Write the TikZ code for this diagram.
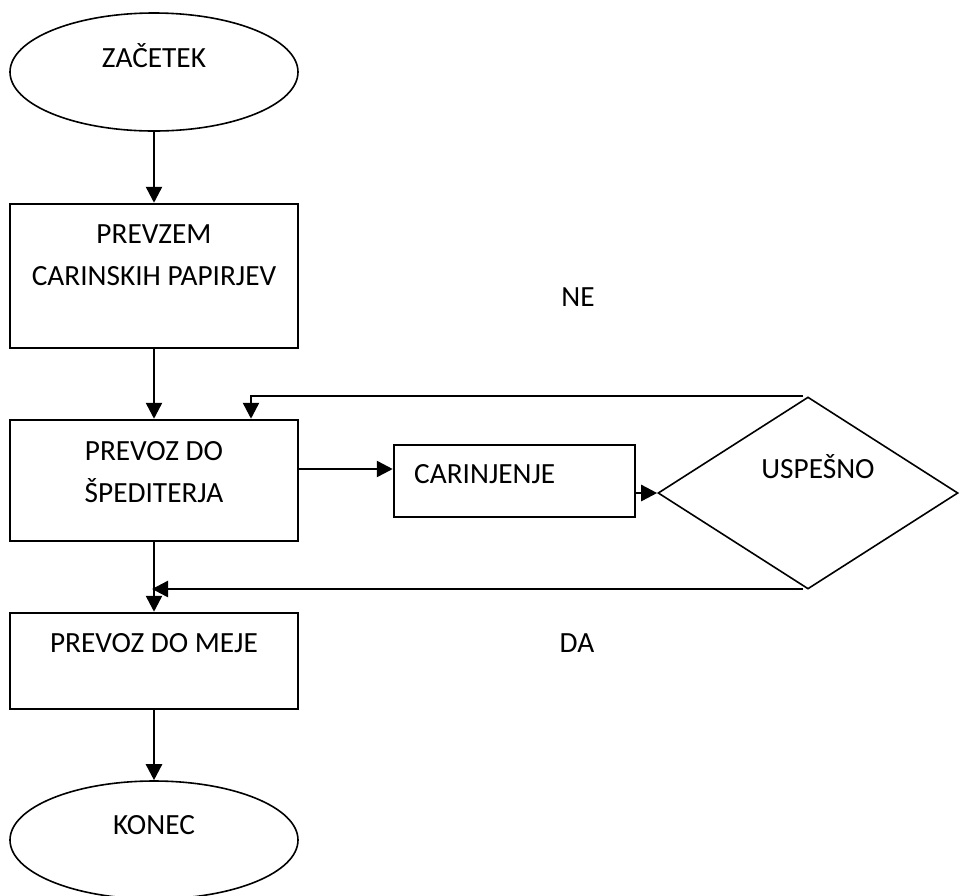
\documentclass[tikz,border=0pt]{standalone}
\usepackage{fontspec}
\setmainfont{Carlito}
\usetikzlibrary{shapes.geometric,arrows.meta}
\begin{document}
\begin{tikzpicture}[x=1pt,y=-1pt,
  proc/.style={draw,rectangle,line width=2.5pt,inner sep=0pt},
  term/.style={draw,ellipse,line width=1.6pt,inner sep=0pt,minimum width=288pt,minimum height=118pt},
  dec/.style={draw,diamond,line width=1.6pt,inner sep=0pt,minimum width=300pt,minimum height=192pt,aspect=1.5625},
  txt/.style={inner sep=0pt,font=\fontsize{29.3}{34}\selectfont,anchor=base},
  arr/.style={line width=2.5pt,-{Triangle[length=16pt,width=16pt]}},
  plain/.style={line width=2.5pt}]
\useasboundingbox (0,0) rectangle (960,895);
\node[term] (start) at (154,72) {};
\node[proc,minimum width=288pt,minimum height=144pt] (box1) at (154,276) {};
\node[proc,minimum width=288pt,minimum height=121pt] (box2) at (154,480.5) {};
\node[proc,minimum width=241pt,minimum height=72pt] (carin) at (514.5,481) {};
\node[dec] (dec) at (808,493) {};
\node[proc,minimum width=288pt,minimum height=96pt] (box3) at (154,661) {};
\node[term] (end) at (154,840) {};
\coordinate (neend) at (803,396);
\coordinate (daend) at (803,589);
% texts
\node[txt] (t1) at (154,67) {ZAČETEK};
\node[txt] (t2) at (154,243) {PREVZEM};
\node[txt] (t3) at (154,285) {CARINSKIH PAPIRJEV};
\node[txt] (t4) at (154,460) {PREVOZ DO};
\node[txt] (t5) at (154,502) {ŠPEDITERJA};
\node[txt,anchor=base west] (t6) at (414,483) {CARINJENJE};
\node[txt] (t7) at (818,478) {USPEŠNO};
\node[txt] (t8) at (154,652) {PREVOZ DO MEJE};
\node[txt] (t9) at (154,834) {KONEC};
\node[txt] (ne) at (578,306) {NE};
\node[txt] (da) at (577,652) {DA};
% connectors
\draw[arr] (start.south) -- (box1.north);
\draw[arr] (box1.south) -- (box2.north);
\draw[arr] ([yshift=11.5pt]box2.east) -- ([yshift=12pt]carin.west);
\draw[arr] ([yshift=-12pt]carin.east) -- (dec.west);
\draw[arr] (neend) -| ([xshift=97pt]box2.north);
\draw[arr] (box2.south) -- (box3.north);
\draw[arr,shorten >=-2pt] (daend) -- (daend -| box2.south);
\draw[arr] (box3.south) -- (end.north);
\end{tikzpicture}
\end{document}
